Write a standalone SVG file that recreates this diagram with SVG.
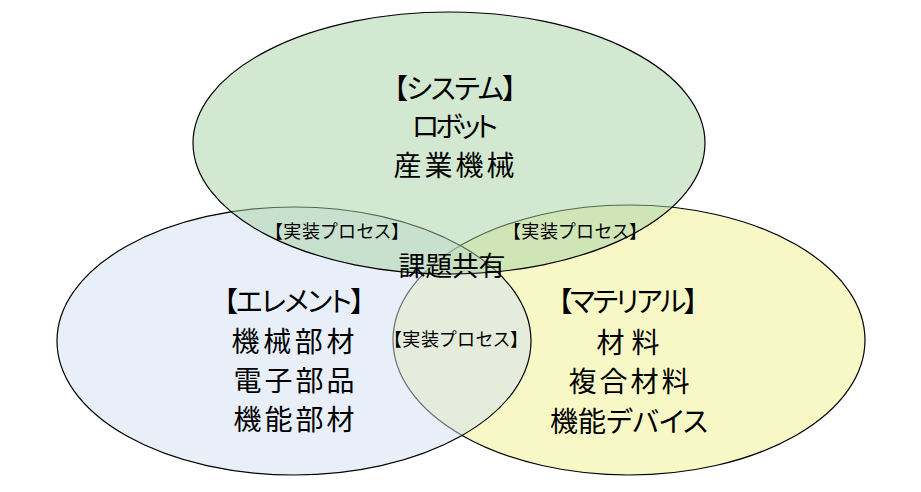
<svg xmlns="http://www.w3.org/2000/svg" width="921" height="492" viewBox="0 0 921 492">
<style>
.e{stroke:#000;stroke-width:1.2}
.t{font-family:"Noto Sans CJK JP","Noto Sans CJK SC",sans-serif;fill:#000;text-anchor:middle;dominant-baseline:central;font-feature-settings:"palt"}
.m{font-size:28px}
.s{font-size:18px}
.c{font-size:27px}
</style>
<rect width="921" height="492" fill="#fff"/>
<g id="material">
<ellipse class="e" cx="629" cy="340" rx="236" ry="135" fill="#f8f8c6"/>
</g>
<g id="element">
<ellipse class="e" cx="294" cy="341" rx="237" ry="134" fill="#d3dff1" fill-opacity="0.5"/>
</g>
<g id="system">
<ellipse class="e" cx="449" cy="143" rx="256" ry="131" fill="#a7d1a3" fill-opacity="0.5"/>
</g>
<g id="labels">
<text class="t m" x="455" y="87" textLength="123" lengthAdjust="spacing">【システム】</text>
<text class="t m" x="455" y="125" textLength="86" lengthAdjust="spacing">ロボット</text>
<text class="t m" x="454" y="164" textLength="121" lengthAdjust="spacing">産業機械</text>
<text class="t m" x="294" y="300" textLength="141" lengthAdjust="spacing">【エレメント】</text>
<text class="t m" x="293" y="340" textLength="123" lengthAdjust="spacing">機械部材</text>
<text class="t m" x="294" y="379" textLength="121" lengthAdjust="spacing">電子部品</text>
<text class="t m" x="294" y="418" textLength="121" lengthAdjust="spacing">機能部材</text>
<text class="t m" x="628" y="300" textLength="140" lengthAdjust="spacing">【マテリアル】</text>
<text class="t m" x="628" y="341" textLength="63" lengthAdjust="spacing">材料</text>
<text class="t m" x="629" y="380" textLength="121" lengthAdjust="spacing">複合材料</text>
<text class="t m" x="629" y="420" textLength="158" lengthAdjust="spacing">機能デバイス</text>
<text class="t s" x="337" y="230" textLength="127" lengthAdjust="spacing">【実装プロセス】</text>
<text class="t s" x="575" y="230" textLength="127" lengthAdjust="spacing">【実装プロセス】</text>
<text class="t s" x="456" y="338" textLength="127" lengthAdjust="spacing">【実装プロセス】</text>
<text class="t c" x="452" y="264" textLength="107" lengthAdjust="spacing">課題共有</text>
</g>
</svg>
